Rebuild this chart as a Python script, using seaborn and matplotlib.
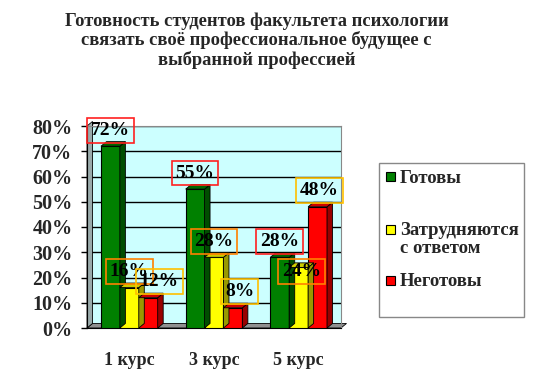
import matplotlib
matplotlib.use("Agg")
import matplotlib.pyplot as plt
import seaborn as sns
import pandas as pd
import numpy as np
from matplotlib.patches import Polygon, Rectangle
from matplotlib.colors import to_rgb

courses = ["1 курс", "3 курс", "5 курс"]
series = ["Готовы", "Затрудняются\nс ответом", "Неготовы"]
ready = [0.72, 0.55, 0.28]
unsure = [0.16, 0.28, 0.24]
notready = [0.12, 0.08, 0.48]
colors = ["#008000", "#FFFF00", "#FF0000"]
box_colors = ["#FF2020", "#FF8000", "#FFC000"]
yticks = [0, 0.1, 0.2, 0.3, 0.4, 0.5, 0.6, 0.7, 0.8]
# annotation nudges (series x course), in axis units
lab_dx = [[0, 0, 0], [0, 0, 0.03], [0.13, 0.08, 0.02]]
lab_dy = [[0, 0, 0], [0, 0, -0.08], [0, 0, 0]]

sns.set_style("white")
plt.rcParams['font.family'] = ['Liberation Serif', 'DejaVu Serif']
plt.rcParams['font.weight'] = 'bold'

rows = []
for s, vals in zip(series, [ready, unsure, notready]):
    for c, v in zip(courses, vals):
        rows.append({"course": c, "series": s, "value": v})
df = pd.DataFrame(rows)

W, H = 558, 379
fig = plt.figure(figsize=(W/100, H/100), dpi=100)
ax = fig.add_axes([87/W, 1-328/H, 254/W, 202/H])
ax.set_facecolor("#CCFFFF")

sns.barplot(data=df, x="course", y="value", hue="series", order=courses,
            hue_order=series, palette=colors, width=0.67, edgecolor="black",
            linewidth=0.8, saturation=1, ax=ax, legend=False, zorder=3)

ax.set_ylim(0, 0.8)
ax.set_xlim(-0.5, 2.5)
ax.set_yticks(yticks)
ax.set_yticklabels([f"{int(round(t*100))}%" for t in yticks], fontsize=14.5, fontweight='bold')
ax.yaxis.grid(True, color="black", linewidth=1, zorder=0)
ax.set_axisbelow(True)
ax.set_xlabel("")
ax.set_ylabel("")
ax.set_xticks(range(len(courses)))
ax.set_xticklabels(courses, fontsize=13, fontweight='bold')
ax.set_xticks([-0.5, 0.5, 1.5, 2.5], minor=True)
ax.tick_params(axis='x', which='major', length=0, pad=17)
ax.tick_params(axis='x', which='minor', length=4.5, color='black', width=1)
ax.tick_params(axis='y', length=4.5, color='black', width=1, left=True, pad=6)
for sp in ["top", "right"]:
    ax.spines[sp].set_color("#888888")
ax.spines["left"].set_color("black")
ax.spines["bottom"].set_color("black")

# 3D-like faces derived from bar geometry
dx, dy = 0.065, 0.018
def darker(c, f=0.6):
    r, g, b = to_rgb(c)
    return (r*f, g*f, b*f)

ax.add_patch(Polygon([(-0.5, 0), (2.5, 0), (2.5+dx, dy), (-0.5+dx, dy)], closed=True,
                     facecolor="#909090", edgecolor="black", lw=0.6, zorder=2, clip_on=False))
bars = [p for p in ax.patches if isinstance(p, Rectangle) and p.get_height() > 0]
for p in bars:
    x, w, h = p.get_x(), p.get_width(), p.get_height()
    fc = p.get_facecolor()
    ax.add_patch(Polygon([(x+w, 0), (x+w+dx, dy), (x+w+dx, h+dy), (x+w, h)], closed=True,
                         facecolor=darker(fc, 0.6), edgecolor="black", lw=0.6, zorder=3))
    ax.add_patch(Polygon([(x, h), (x+dx, h+dy), (x+w+dx, h+dy), (x+w, h)], closed=True,
                         facecolor=darker(fc, 0.8), edgecolor="black", lw=0.6, zorder=3))

ax.add_patch(Polygon([(-0.5, 0), (-0.5+dx, dy), (-0.5+dx, 0.8+dy), (-0.5, 0.8)], closed=True,
                     facecolor="#99AAAA", edgecolor="black", lw=0.6, zorder=2, clip_on=False))

# framed value labels
for i, vals in enumerate([ready, unsure, notready]):
    for j, v in enumerate(vals):
        xc = j + (i - 1) * 0.67 / 3 + lab_dx[i][j]
        ax.text(xc, v + 0.03 + lab_dy[i][j], f"{int(round(v*100))}%", ha="center", va="bottom",
                fontsize=14, fontweight='bold', color="black", zorder=6,
                bbox=dict(boxstyle="square,pad=0.2", fc="none", ec=box_colors[i], lw=1.2))

# legend (drawn as a framed box in figure pixels)
def fx(px): return px / W
def fy(py): return 1 - py / H
fig.patches.append(Rectangle((fx(379), fy(317)), fx(524) - fx(379), fy(163) - fy(317),
                             transform=fig.transFigure, fc="white", ec="#888888", lw=1))
sq_y = [177, 229, 280]
for c, s, yy in zip(colors, series, sq_y):
    fig.patches.append(Rectangle((fx(386), fy(yy + 4.5)), fx(395) - fx(386), fy(yy - 4.5) - fy(yy + 4.5),
                                 transform=fig.transFigure, fc=c, ec="black", lw=0.8))
    fig.text(fx(400), fy(yy - 7), s, ha="left", va="top", fontsize=13.5,
             fontweight='bold', linespacing=1.05)

fig.text(0.46, 0.968, "Готовность студентов факультета психологии\nсвязать своё профессиональное будущее с\nвыбранной профессией",
         ha="center", va="top", fontsize=13.3, fontweight='bold', linespacing=1.12)

fig.savefig("out.png", dpi=100, facecolor="white")
